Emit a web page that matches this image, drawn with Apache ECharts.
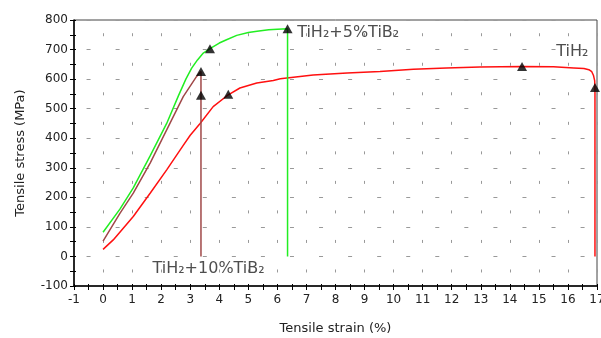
<!DOCTYPE html>
<html>
<head>
<meta charset="utf-8">
<script src="https://cdn.jsdelivr.net/npm/echarts@6/dist/echarts.min.js"></script>
<style>html,body{margin:0;padding:0;background:#fff;}#c{width:601px;height:338px;}</style>
</head>
<body>
<div id="c"></div>
<script>
// ---- data ----
var xTicks = [-1, 17, 1];          // min, max, step of strain axis (%)
var yTicks = [-100, 800, 100];     // min, max, step of stress axis (MPa)

var tih2Strain  = [0, 0.35, 1.04, 1.62, 2.19, 2.76, 3.0, 3.34, 3.79, 4.31, 4.71, 5.29, 5.86, 6.1, 6.78, 7.23, 8.4, 9.53, 10.68, 11.82, 12.97, 14.42, 15.5, 16.2, 16.55, 16.72, 16.82, 16.88, 16.92, 16.93, 16.93];
var tih2Stress  = [24, 56, 135, 214, 293, 376, 410, 450, 507, 547, 570, 587, 595, 601, 609, 614, 621, 626, 633, 638, 641, 643, 642, 638, 636, 632, 625, 612, 595, 572, 0];

var tib5Strain  = [0, 0.58, 1.04, 1.62, 2.19, 2.6, 2.85, 3.05, 3.25, 3.45, 3.68, 4.0, 4.25, 4.6, 5.0, 5.3, 5.7, 6.0, 6.35, 6.35];
var tib5Stress  = [82, 160, 232, 340, 450, 545, 600, 637, 665, 688, 703, 722, 733, 748, 758, 762, 767, 769, 770, 0];

var tib10Strain = [0, 0.58, 1.04, 1.62, 2.19, 2.76, 3.22, 3.37, 3.37];
var tib10Stress = [52, 146, 214, 316, 428, 541, 609, 626, 0];

// triangle markers
var tih2MarkX  = [4.31, 14.42, 16.93];
var tih2MarkY  = [549, 643, 572];
var tib5MarkX  = [3.68, 6.35];
var tib5MarkY  = [703, 770];
var tib10MarkX = [3.37, 3.37];
var tib10MarkY = [626, 545];

// annotations
var annoText = ['TiH\u2082+5%TiB\u2082', 'TiH\u2082', 'TiH\u2082+10%TiB\u2082'];
var annoX = [6.68, 15.6, 1.7];
var annoY = [757, 691, -43];

function zip(a, b) { return a.map(function (v, i) { return [v, b[i]]; }); }

var FONT = 'DejaVu Sans';
var chart = echarts.init(document.getElementById('c'), null, {renderer: 'canvas'});

var baseX = {
  type: 'value', min: xTicks[0], max: xTicks[1], interval: xTicks[2],
  position: 'bottom'
};
var baseY = {
  type: 'value', min: yTicks[0], max: yTicks[1], interval: yTicks[2],
  position: 'left'
};

function lineSeries(name, xs, ys, color) {
  return {
    name: name, type: 'line', data: zip(xs, ys), showSymbol: false, symbol: 'none',
    lineStyle: {color: color, width: 1.5}, z: 3, animation: false
  };
}
function markSeries(xs, ys) {
  return {
    type: 'scatter', data: zip(xs, ys), symbol: 'triangle', symbolSize: [10, 9],
    itemStyle: {color: '#000'}, z: 5, animation: false, silent: true
  };
}

chart.setOption({
  animation: false,
  backgroundColor: '#fff',
  grid: {left: 74, right: 4, top: 20, bottom: 52, show: true, borderColor: '#444', borderWidth: 1,
         containLabel: false, outerBoundsMode: 'none'},
  xAxis: [
    Object.assign({}, baseX, {
      name: 'Tensile strain (%)', nameLocation: 'middle', nameGap: 36,
      nameTextStyle: {fontFamily: FONT, fontSize: 13, color: '#222'},
      axisLine: {show: true, onZero: false, lineStyle: {color: '#000', width: 1.5}},
      axisTick: {show: true, length: 4, lineStyle: {color: '#000'}},
      minorTick: {show: true, splitNumber: 2, length: 4, lineStyle: {color: '#000'}},
      axisLabel: {fontFamily: FONT, fontSize: 12, color: '#222', margin: 8},
      splitLine: {show: true, lineStyle: {color: '#999', width: 1, type: [3, 26.53], dashOffset: 16.3}}
    }),
    Object.assign({}, baseX, {
      axisLine: {show: false, onZero: false},
      axisTick: {show: true, inside: true, length: 2, lineStyle: {color: '#000'}},
      minorTick: {show: true, splitNumber: 2, length: 2, lineStyle: {color: '#000'}},
      axisLabel: {show: false}, splitLine: {show: false}
    })
  ],
  yAxis: [
    Object.assign({}, baseY, {
      name: 'Tensile stress (MPa)', nameLocation: 'middle', nameGap: 47, nameRotate: 90,
      nameTextStyle: {fontFamily: FONT, fontSize: 13, color: '#222'},
      axisLine: {show: true, onZero: false, lineStyle: {color: '#000', width: 1.5}},
      axisTick: {show: true, length: 4, lineStyle: {color: '#000'}},
      minorTick: {show: true, splitNumber: 2, length: 4, lineStyle: {color: '#000'}},
      axisLabel: {fontFamily: FONT, fontSize: 12, color: '#222', margin: 6},
      splitLine: {show: true, lineStyle: {color: '#999', width: 1, type: [4, 25.06], dashOffset: 16.5}}
    }),
    Object.assign({}, baseY, {
      axisLine: {show: false, onZero: false},
      axisTick: {show: true, inside: true, length: 2, lineStyle: {color: '#000'}},
      minorTick: {show: true, splitNumber: 2, length: 2, lineStyle: {color: '#000'}},
      axisLabel: {show: false}, splitLine: {show: false}
    })
  ],
  series: [
    lineSeries('TiH2', tih2Strain, tih2Stress, '#ff1010'),
    lineSeries('TiH2+10%TiB2', tib10Strain, tib10Stress, '#a04848'),
    lineSeries('TiH2+5%TiB2', tib5Strain, tib5Stress, '#22ee22'),
    markSeries(tih2MarkX, tih2MarkY),
    markSeries(tib5MarkX, tib5MarkY),
    markSeries(tib10MarkX, tib10MarkY),
    {
      type: 'scatter', symbol: 'circle', symbolSize: 0, silent: true, z: 6,
      itemStyle: {color: 'rgba(0,0,0,0)'},
      data: annoText.map(function (t, i) { return {name: t, value: [annoX[i], annoY[i]]}; }),
      label: {
        show: true, position: 'right', distance: 0, formatter: '{b}',
        fontFamily: FONT, fontSize: 16, color: '#222', verticalAlign: 'middle'
      }
    }
  ]
});
</script>
</body>
</html>
